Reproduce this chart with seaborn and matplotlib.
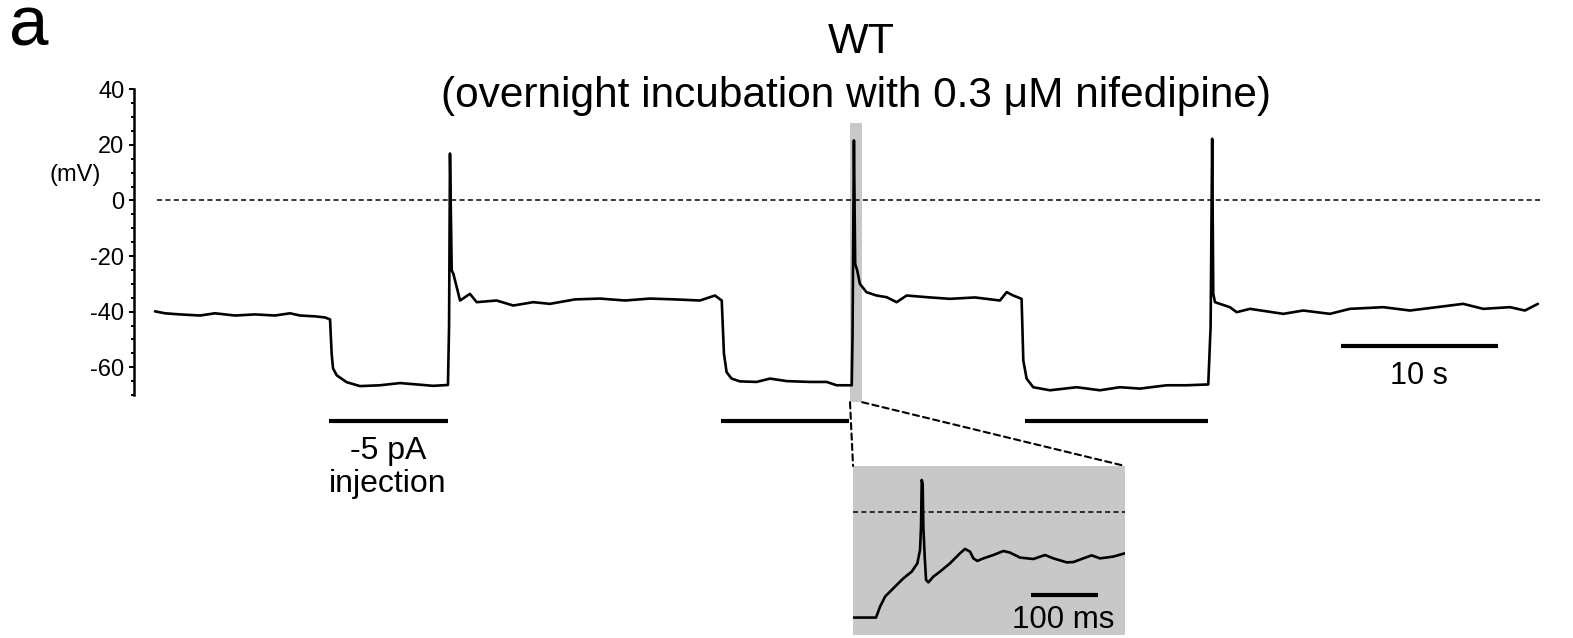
import matplotlib
matplotlib.use("Agg")
import matplotlib.pyplot as plt
from matplotlib.patches import Rectangle, ConnectionPatch
from matplotlib.ticker import MultipleLocator, FixedLocator
import seaborn as sns
import pandas as pd

# Whole-cell recording: time (s) and membrane potential (mV)
time_s = [0.00, 0.64, 1.59, 2.87, 3.82, 5.10, 6.37, 7.64, 8.60, 9.24, 10.19, 10.83, 11.15,
          11.25, 11.34, 11.57, 12.21, 13.06, 14.33, 15.61, 16.67, 17.71, 18.66,
          18.73, 18.79, 18.90, 19.00, 19.22, 19.43, 20.06, 20.49, 21.76, 22.82, 24.09, 25.16,
          26.75, 28.34, 29.94, 31.53, 33.12, 34.71, 35.67, 36.10,
          36.24, 36.41, 36.73, 37.26, 38.32, 39.17, 40.24, 41.72, 42.78, 43.42, 44.38,
          44.43, 44.52, 44.60, 44.73, 44.90, 45.32, 45.96, 46.60, 47.24, 47.88, 49.15, 50.64,
          52.23, 53.82, 54.25, 54.67, 55.20,
          55.31, 55.52, 55.94, 57.01, 58.71, 60.19, 61.46, 62.74, 64.44, 65.71, 67.09,
          67.24, 67.34, 67.41, 67.52, 67.83, 68.47, 68.90, 69.75, 71.87, 73.14, 74.84,
          76.11, 78.24, 79.94, 81.64, 83.33, 84.61, 86.31, 87.26, 88.09]
vm_mv = [-39.9, -40.6, -41.0, -41.4, -40.6, -41.4, -41.0, -41.4, -40.6, -41.4, -41.7, -42.1, -42.8,
         -55.0, -60.4, -62.9, -65.4, -66.8, -66.5, -65.7, -66.2, -66.7, -66.4,
         -45.6, 16.9, -25.2, -26.3, -31.2, -36.0, -33.6, -36.6, -36.0, -37.8, -36.6, -37.2,
         -35.6, -35.3, -36.0, -35.3, -35.6, -36.0, -34.2, -36.0,
         -55.1, -61.8, -64.1, -65.1, -65.3, -64.1, -65.0, -65.3, -65.3, -66.5, -66.5,
         -49.2, 21.6, -22.8, -25.2, -30.0, -33.0, -34.2, -34.8, -36.6, -34.2, -34.8, -35.4,
         -34.9, -36.0, -33.0, -34.2, -35.4,
         -57.6, -64.1, -67.2, -68.3, -67.2, -68.3, -67.2, -67.7, -66.5, -66.5, -66.2,
         -45.6, 22.2, -33.6, -36.6, -37.2, -38.4, -40.2, -39.0, -40.8, -39.6, -40.8,
         -39.0, -38.4, -39.6, -38.4, -37.2, -39.0, -38.4, -39.6, -37.2]

# -5 pA current injection periods (s)
step_start_s = [11.08, 36.03, 55.41]
step_end_s = [18.66, 44.20, 67.07]

# Expanded view of the second rebound spike: time (ms) and potential (mV)
zoom_time_ms = [0.5, 33.8, 39.7, 47.1, 59.3, 74.0, 86.3, 94.6, 98.5, 100.0, 101.0, 102.4,
                103.4, 105.4, 107.4, 110.8, 118.1, 127.9, 142.6, 157.4, 164.7, 172.1, 177.0,
                182.8, 191.7, 206.4, 221.1, 230.9, 245.6, 265.2, 282.4, 294.6, 314.3, 324.0,
                338.7, 351.0, 363.2, 382.8, 400.0]
zoom_vm_mv = [-66.0, -66.0, -59.2, -52.9, -47.7, -41.5, -37.3, -32.1, -23.8, -9.2, 20.0, 18.0,
              -9.2, -27.9, -42.5, -44.0, -40.4, -37.3, -32.1, -25.8, -23.1, -24.8, -29.0,
              -30.6, -29.0, -26.9, -24.4, -25.4, -28.5, -29.4, -26.9, -29.0, -31.5, -31.3,
              -29.0, -27.1, -29.0, -27.9, -25.8]

y_ticks = [-60, -40, -20, 0, 20, 40]

sns.set_style("ticks")
plt.rcParams["font.family"] = ["Liberation Sans", "DejaVu Sans"]
plt.rcParams.update({"text.color": "black", "axes.edgecolor": "black",
                     "xtick.color": "black", "ytick.color": "black",
                     "axes.labelcolor": "black"})

GRAY = "#c8c8c8"
fig = plt.figure(figsize=(15.73, 6.38), dpi=100)

# ---- main trace ----
ax = fig.add_axes([0.08519, 0.38088, 0.8970, 0.47915])
trace = pd.DataFrame({"t": time_s, "v": vm_mv})
sns.lineplot(data=trace, x="t", y="v", ax=ax, sort=False, estimator=None,
             color="black", linewidth=1.9, zorder=3)
ax.set_xlim(-1.338, 88.54)
ax.set_ylim(-70, 40)
ax.set_xlabel("")
ax.set_ylabel("")

ax.hlines(0, 0.1, 88.2, colors="black", linewidth=1.1,
          linestyles=(0, (3.3, 2.2)), zorder=2)

for side in ("top", "right", "bottom"):
    ax.spines[side].set_visible(False)
ax.spines["left"].set_linewidth(1.8)
ax.set_xticks([])
ax.yaxis.set_major_locator(FixedLocator(y_ticks))
ax.yaxis.set_minor_locator(MultipleLocator(5))
ax.set_yticklabels([str(v) for v in y_ticks])
ax.tick_params(axis="y", which="major", length=3.6, width=1.4, pad=3.4,
               labelsize=17, direction="out", colors="black")
ax.tick_params(axis="y", which="minor", length=2.2, width=1.4, direction="out",
               colors="black")
ax.text(-5.1, 9.2, "(mV)", fontsize=17, ha="center", va="center", clip_on=False)

# current-injection bars
for t0, t1 in zip(step_start_s, step_end_s):
    ax.plot([t0, t1], [-79.5, -79.5], color="black", linewidth=3.0,
            solid_capstyle="butt", clip_on=False)
ax.text(14.84, -93.2, "-5 pA", fontsize=23, ha="center", va="baseline")
ax.text(14.84, -105.0, "injection", fontsize=23, ha="center", va="baseline")

# time scale bar
ax.plot([75.52, 85.52], [-52.2, -52.2], color="black", linewidth=3.0,
        solid_capstyle="butt", clip_on=False)
ax.text(80.51, -65.9, "10 s", fontsize=22, ha="center", va="baseline")

# highlighted region
ax.add_patch(Rectangle((44.27, -72.6), 0.78, 100.3, facecolor=GRAY,
                       edgecolor="none", zorder=1, clip_on=False))

# ---- expanded inset ----
ins = fig.add_axes([0.5423, 0.0047, 0.1729, 0.2649])
ins.set_facecolor(GRAY)
zoom = pd.DataFrame({"t": zoom_time_ms, "v": zoom_vm_mv})
sns.lineplot(data=zoom, x="t", y="v", ax=ins, sort=False, estimator=None,
             color="black", linewidth=1.9, zorder=3)
ins.set_xlim(0, 400)
ins.set_ylim(-76.9, 28.75)
ins.axhline(0, color="black", linewidth=1.1, linestyle=(0, (3.3, 2.2)), zorder=2)
ins.plot([261.3, 360.7], [-51.8, -51.8], color="black", linewidth=3.0,
         solid_capstyle="butt")
ins.text(309.3, -72.7, "100 ms", fontsize=22.5, ha="center", va="baseline")
ins.set_xticks([])
ins.set_yticks([])
ins.set_xlabel("")
ins.set_ylabel("")
for s in ins.spines.values():
    s.set_visible(False)

for xa, xb in ((44.27, 0.0), (45.05, 1.0)):
    con = ConnectionPatch(xyA=(xa, -72.6), coordsA=ax.transData,
                          xyB=(xb, 1.0), coordsB=ins.transAxes,
                          color="black", linewidth=1.5, linestyle=(0, (3, 2)))
    fig.add_artist(con)

# ---- titles and panel letter ----
fig.text(0.5474, 0.9169, "WT", fontsize=31, ha="center", va="baseline")
fig.text(0.5439, 0.8328, "(overnight incubation with 0.3 \u03bcM nifedipine)",
         fontsize=30.5, ha="center", va="baseline")
fig.text(0.0057, 0.929, "a", fontsize=51, ha="left", va="baseline")

fig.savefig("out.png", dpi=100)
